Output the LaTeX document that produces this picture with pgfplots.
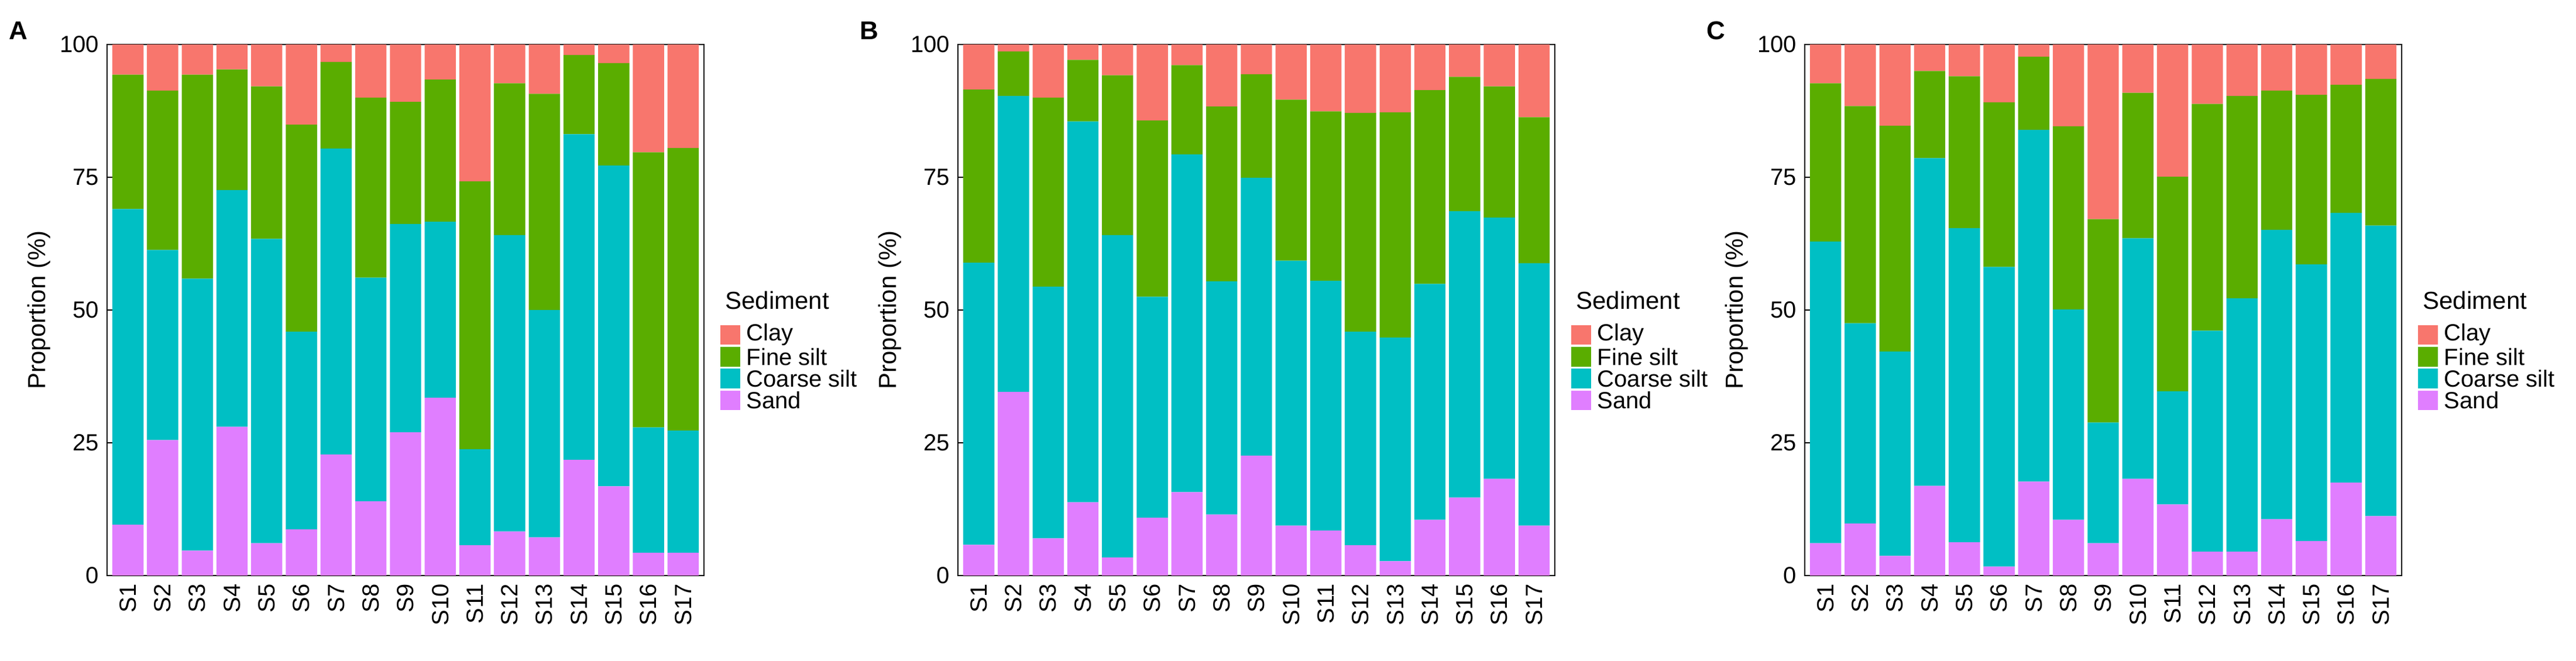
\documentclass[border=0pt]{standalone}
\usepackage{pgfplots}
\usepackage{pgfplotstable}
\pgfplotsset{compat=1.18}
\usepackage{fontspec}
\setmainfont{Liberation Sans}
\definecolor{cClay}{HTML}{F8766D}
\definecolor{cFine}{HTML}{5AAD00}
\definecolor{cCoarse}{HTML}{00BFC4}
\definecolor{cSand}{HTML}{E07EFF}
\pgfplotstableread{
x sand coarse fine clay
1 9.6 59.4 25.3 5.7
2 25.5 35.8 30.0 8.7
3 4.7 51.2 38.4 5.7
4 28.0 44.6 22.7 4.7
5 6.1 57.3 28.7 7.9
6 8.7 37.2 39.0 15.1
7 22.8 57.6 16.3 3.3
8 14.0 42.1 33.9 10.0
9 27.0 39.2 23.0 10.8
10 33.5 33.1 26.8 6.6
11 5.7 18.1 50.4 25.8
12 8.3 55.8 28.6 7.3
13 7.2 42.8 40.7 9.3
14 21.8 61.3 14.9 2.0
15 16.8 60.4 19.3 3.5
16 4.3 23.6 51.8 20.3
17 4.3 23.0 53.2 19.5
}\tA
\pgfplotstableread{
x sand coarse fine clay
1 5.8 53.1 32.6 8.5
2 34.6 55.7 8.4 1.3
3 7.0 47.4 35.6 10.0
4 13.8 71.7 11.6 2.9
5 3.4 60.7 30.1 5.8
6 10.9 41.6 33.2 14.3
7 15.7 63.6 16.8 3.9
8 11.5 43.9 32.9 11.7
9 22.6 52.3 19.5 5.6
10 9.4 49.9 30.3 10.4
11 8.5 47.0 31.9 12.6
12 5.7 40.2 41.2 12.9
13 2.7 42.1 42.4 12.8
14 10.5 44.4 36.5 8.6
15 14.7 53.9 25.3 6.1
16 18.2 49.2 24.7 7.9
17 9.4 49.4 27.5 13.7
}\tB
\pgfplotstableread{
x sand coarse fine clay
1 6.1 56.8 29.8 7.3
2 9.8 37.7 40.9 11.6
3 3.7 38.5 42.5 15.3
4 16.9 61.7 16.4 5.0
5 6.3 59.1 28.6 6.0
6 1.7 56.4 31.0 10.9
7 17.7 66.2 13.8 2.3
8 10.5 39.6 34.5 15.4
9 6.1 22.7 38.3 32.9
10 18.2 45.3 27.4 9.1
11 13.4 21.3 40.4 24.9
12 4.5 41.6 42.7 11.2
13 4.5 47.7 38.1 9.7
14 10.6 54.5 26.2 8.7
15 6.5 52.1 31.9 9.5
16 17.5 50.8 24.1 7.6
17 11.2 54.7 27.6 6.5
}\tC
\newcommand{\legitem}[3]{%
  \fill[#1] ([xshift=7pt,yshift=-4.2pt]rel axis cs:1,#3) rectangle ([xshift=15.5pt,yshift=4.2pt]rel axis cs:1,#3);
  \node[anchor=west, font=\fontsize{10}{12}\selectfont, inner sep=0pt] at ([xshift=18pt]rel axis cs:1,#3) {#2};}
\newcommand{\panel}[3]{%
\begin{axis}[at={(#2,36.5pt)}, anchor=south west,
  scale only axis, width=255pt, height=227pt,
  ybar stacked, bar width=0.9, clip=false,
  xmin=0.4, xmax=17.6, ymin=0, ymax=100,
  xtick={1,...,17}, xticklabels={S1,S2,S3,S4,S5,S6,S7,S8,S9,S10,S11,S12,S13,S14,S15,S16,S17},
  xticklabel style={rotate=90, anchor=east, font=\fontsize{10}{12}\selectfont},
  ytick={0,25,50,75,100},
  yticklabel style={font=\fontsize{10}{12}\selectfont},
  /pgf/number format/assume math mode=true,
  ylabel={Proportion (\%)}, ylabel style={font=\fontsize{10.5}{12}\selectfont, yshift=-3pt},
  tick style={black, thin}, major tick length=2.5pt, tick pos=left,
  axis line style={black, line width=0.5pt},
  every axis plot/.append style={draw=none, line width=0pt},
]
\addplot[fill=cSand] table[x=x,y=sand]{#1};
\addplot[fill=cCoarse] table[x=x,y=coarse]{#1};
\addplot[fill=cFine] table[x=x,y=fine]{#1};
\addplot[fill=cClay] table[x=x,y=clay]{#1};
\node[anchor=west, font=\fontsize{10.5}{12}\selectfont] at (rel axis cs:1.022,0.518) {Sediment};
\legitem{cClay}{Clay}{0.453}
\legitem{cFine}{Fine silt}{0.412}
\legitem{cCoarse}{Coarse silt}{0.371}
\legitem{cSand}{Sand}{0.330}
\node[anchor=north west, font=\bfseries\fontsize{11}{12}\selectfont, inner sep=0pt] at ([xshift=-42pt,yshift=10pt]rel axis cs:0,1) {#3};
\end{axis}}
\begin{document}
\begin{tikzpicture}
\path[use as bounding box] (0,0) rectangle (1100.5pt,282.5pt);
\panel{\tA}{45.75pt}{A}
\panel{\tB}{409.25pt}{B}
\panel{\tC}{771pt}{C}
\end{tikzpicture}
\end{document}
